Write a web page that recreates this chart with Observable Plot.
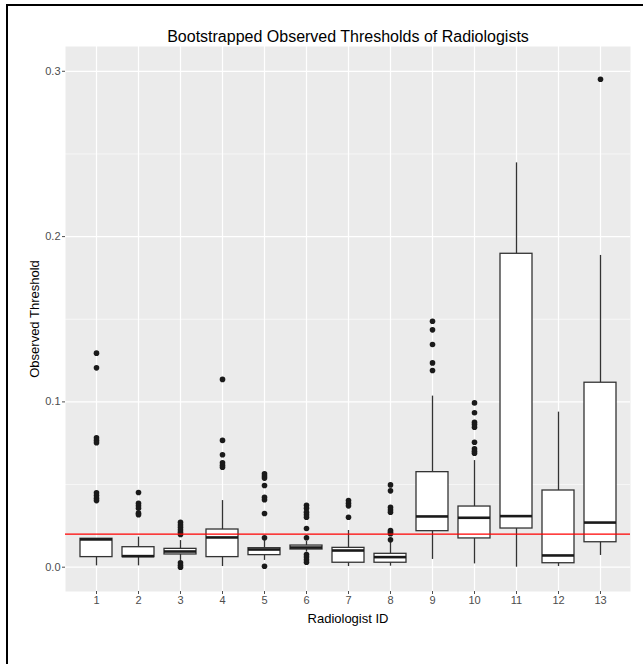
<!DOCTYPE html>
<html>
<head>
<meta charset="utf-8">
<script src="https://cdn.jsdelivr.net/npm/d3@7"></script>
<script src="https://cdn.jsdelivr.net/npm/@observablehq/plot@0.6"></script>
<style>
  html, body { margin: 0; padding: 0; background: #fff; }
  #wrap { position: relative; width: 643px; height: 664px; overflow: hidden; }
  #border { position: absolute; left: 6px; top: 4px; right: -4px; bottom: -4px;
            border-top: 2px solid #000; border-left: 2px solid #000; pointer-events: none; }
</style>
</head>
<body>
<div id="wrap"><div id="chart"></div><div id="border"></div></div>
<script>
// Radiologist IDs
const ids = ["1","2","3","4","5","6","7","8","9","10","11","12","13"];
// Box statistics
const lowerWhisker = [0.0008, 0.0008, 0.0041, 0.0004, 0.0041, 0.0091, 0.0004, 0.0006, 0.0047, 0.0020, 0.0000, 0.0004, 0.0071];
const q1           = [0.0061, 0.0061, 0.0077, 0.0061, 0.0073, 0.0107, 0.0027, 0.0027, 0.0218, 0.0174, 0.0234, 0.0024, 0.0151];
const median       = [0.0168, 0.0067, 0.0095, 0.0180, 0.0107, 0.0119, 0.0101, 0.0061, 0.0307, 0.0299, 0.0309, 0.0071, 0.0270];
const q3           = [0.0172, 0.0121, 0.0111, 0.0228, 0.0115, 0.0131, 0.0117, 0.0081, 0.0575, 0.0367, 0.1896, 0.0464, 0.1116];
const upperWhisker = [0.0172, 0.0182, 0.0161, 0.0403, 0.0161, 0.0157, 0.0222, 0.0151, 0.1035, 0.0645, 0.2446, 0.0938, 0.1886];
// Outliers per radiologist
const outliers = [
  [0.1295, 0.1206, 0.0783, 0.0767, 0.0753, 0.0450, 0.0434, 0.0417, 0.0403],
  [0.0452, 0.0387, 0.0371, 0.0357, 0.0327, 0.0317],
  [0.0272, 0.0256, 0.0242, 0.0226, 0.0212, 0.0198, 0.0027, 0.0012, 0.0000],
  [0.1136, 0.0767, 0.0680, 0.0632, 0.0617, 0.0605],
  [0.0565, 0.0551, 0.0539, 0.0494, 0.0423, 0.0408, 0.0325, 0.0178, 0.0006],
  [0.0375, 0.0357, 0.0333, 0.0317, 0.0302, 0.0234, 0.0178, 0.0077, 0.0061, 0.0045, 0.0030],
  [0.0403, 0.0387, 0.0371, 0.0302],
  [0.0498, 0.0462, 0.0363, 0.0347, 0.0333, 0.0222, 0.0212, 0.0202, 0.0166],
  [0.1488, 0.1436, 0.1347, 0.1236, 0.1190],
  [0.0994, 0.0934, 0.0877, 0.0863, 0.0847, 0.0756, 0.0716, 0.0702, 0.0690],
  [],
  [],
  [0.2952]
];
const threshold = [0.02];
const yTicks = [0, 0.1, 0.2, 0.3];
const yMinor = [0.05, 0.15, 0.25];
const titleText = "Bootstrapped Observed Thresholds of Radiologists";
const xTitle = "Radiologist ID";
const yTitle = "Observed Threshold";

const boxes = ids.map((id, i) => ({id, lo: lowerWhisker[i], q1: q1[i], med: median[i], q3: q3[i], hi: upperWhisker[i]}));
const outRows = ids.flatMap((id, i) => outliers[i].map(v => ({id, v})));

const chart = Plot.plot({
  width: 643,
  height: 664,
  marginLeft: 65,
  marginRight: 13,
  marginTop: 46,
  marginBottom: 73,
  style: {fontFamily: "'Liberation Sans', Arial, sans-serif", fontSize: "11px", background: "transparent"},
  x: {type: "band", domain: ids, paddingInner: 0.25, paddingOuter: 0.225, axis: null},
  y: {domain: [-0.0147, 0.315], axis: null},
  marks: [
    Plot.frame({fill: "#ebebeb", stroke: "none"}),
    Plot.ruleY(yMinor, {stroke: "#ffffff", strokeWidth: 0.6}),
    Plot.ruleY(yTicks, {stroke: "#ffffff", strokeWidth: 1.2}),
    Plot.ruleX(ids, {x: d => d, stroke: "#ffffff", strokeWidth: 1.2}),
    Plot.axisX({tickSize: 3, tickPadding: 2, fontSize: 11, color: "#4d4d4d", label: null}),
    Plot.axisY(yTicks, {tickSize: 3, tickPadding: 2, fontSize: 11, color: "#4d4d4d", label: null, tickFormat: d3.format(".1f")}),
    Plot.ruleX(boxes, {x: "id", y1: "q3", y2: "hi", stroke: "#333333", strokeWidth: 1.3}),
    Plot.ruleX(boxes, {x: "id", y1: "lo", y2: "q1", stroke: "#333333", strokeWidth: 1.3}),
    Plot.barY(boxes, {x: "id", y1: "q1", y2: "q3", fill: "#ffffff", stroke: "#333333", strokeWidth: 1.3}),
    Plot.tickY(boxes, {x: "id", y: "med", stroke: "#1a1a1a", strokeWidth: 2.6}),
    Plot.dot(outRows, {x: "id", y: "v", r: 2.8, fill: "#1a1a1a", stroke: "none"}),
    Plot.ruleY(threshold, {stroke: "#ff0000", strokeWidth: 1.2}),
    Plot.text([titleText], {frameAnchor: "top", dy: -16, fontSize: 16, fill: "#000"}),
    Plot.text([xTitle], {frameAnchor: "bottom", dy: 31, fontSize: 13, fill: "#000"}),
    Plot.text([yTitle], {frameAnchor: "left", textAnchor: "middle", dx: -31, rotate: -90, fontSize: 13, fill: "#000"})
  ]
});
document.getElementById("chart").appendChild(chart);
</script>
</body>
</html>
